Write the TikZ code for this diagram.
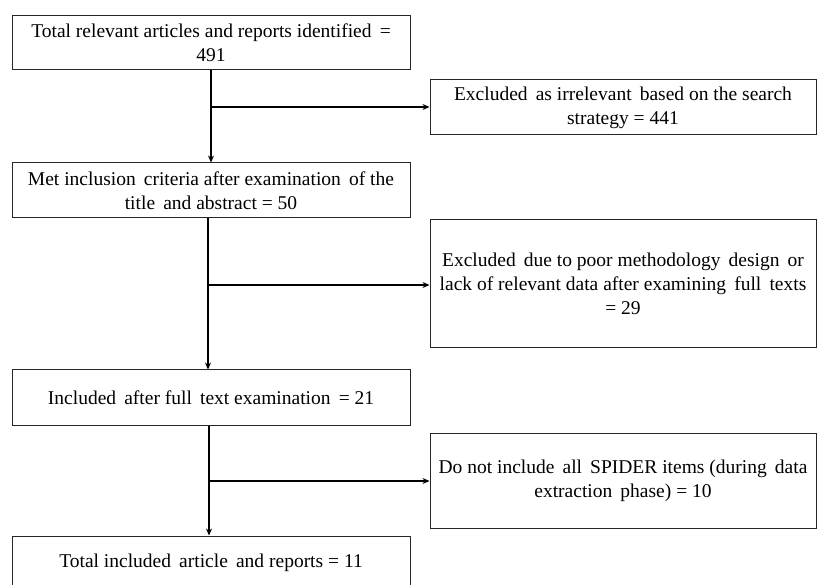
\documentclass[tikz,border=0pt]{standalone}
\usepackage{fontspec}
\setmainfont{Liberation Serif}
\usetikzlibrary{arrows.meta}
\begin{document}
\begin{tikzpicture}[x=1pt,y=-1pt,
  box/.style={draw=black!85, line width=1pt, rectangle, inner sep=0pt, align=center,
    font=\fontsize{19.5}{24}\selectfont, text=black},
  leftbox/.style={box, minimum width=398pt},
  rightbox/.style={box, minimum width=386pt},
  conn/.style={line width=2pt, -{Stealth[length=7pt,width=6pt]}},
  trunk/.style={line width=2pt}]
\useasboundingbox (0,0) rectangle (817,585);
\clip (0,0) rectangle (817,585);

\node[leftbox, minimum height=54pt] (b1) at (211,43) {Total relevant articles and reports identified \,=\\491};
\node[rightbox, minimum height=55pt] (b2) at (623,107.5) {Excluded \,as irrelevant \,based on the search\\strategy = 441};
\node[leftbox, minimum height=55pt] (b3) at (211,190.5) {Met inclusion \,criteria after examination \,of the\\title \,and abstract = 50};
\node[rightbox, minimum height=128pt] (b4) at (623,284) {Excluded \,due to poor methodology \,design \,or\\lack of relevant data after examining \,full \,texts\\= 29};
\node[leftbox, minimum height=55pt] (b5) at (211,397.5) {Included \,after full \,text examination \,= 21};
\node[rightbox, minimum height=95pt] (b6) at (623,480.5) {Do not include \,all \,SPIDER items (during \,data\\extraction \,phase) = 10};
\node[leftbox, minimum height=54pt] (b7) at (211,563) {Total included \,article \,and reports = 11};

\coordinate (j1) at (211,107);
\coordinate (j2) at (208,285);
\coordinate (j3) at (209,481);

\draw[trunk] (b1.south) -- (j1);
\draw[conn] (j1) -- (b3.north);
\draw[conn] (j1) -- (b2.west |- j1);

\draw[trunk] (b3.south -| j2) -- (j2);
\draw[conn] (j2) -- (b5.north -| j2);
\draw[conn] (j2) -- (b4.west |- j2);

\draw[trunk] (b5.south -| j3) -- (j3);
\draw[conn] (j3) -- (b7.north -| j3);
\draw[conn] (j3) -- (b6.west |- j3);
\end{tikzpicture}
\end{document}
